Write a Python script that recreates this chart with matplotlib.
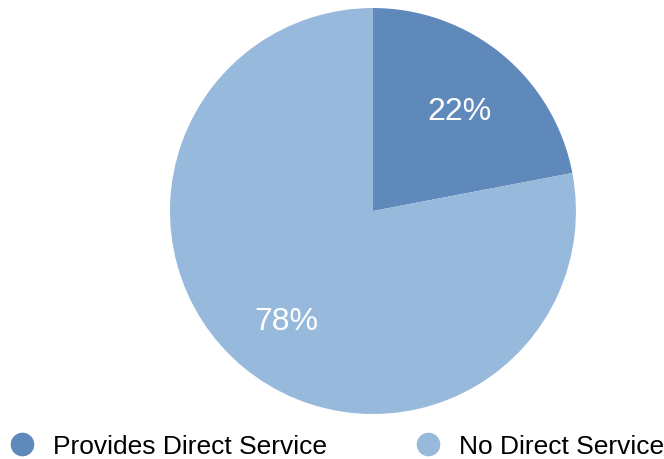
import matplotlib.pyplot as plt
from matplotlib.lines import Line2D

labels = ["Provides Direct Service", "No Direct Service"]
shares = [22, 78]
colors = ["#5f88bb", "#97b9dc"]

plt.rcParams['font.family'] = ['Liberation Sans', 'DejaVu Sans']

fig = plt.figure(figsize=(6.64, 4.60), dpi=100)
ax = fig.add_axes([0.256, 0.0978, 0.6114, 0.8826])
wedges, texts, autotexts = ax.pie(
    shares, colors=colors, startangle=90, counterclock=False,
    autopct="%d%%", pctdistance=0.67, radius=1,
    textprops={"color": "white", "fontsize": 23})
# nudge the percent labels down a little
for t in autotexts:
    x, y = t.get_position()
    t.set_position((x, y - 0.025))
ax.set_xlim(-1, 1)
ax.set_ylim(-1, 1)
ax.set_aspect("equal")

handles = [Line2D([], [], marker="o", linestyle="none", markersize=16,
                  markerfacecolor=c, markeredgecolor=c) for c in colors]
fig.legend(handles, labels, loc="center left", bbox_to_anchor=(-0.004, 0.028),
           ncol=2, frameon=False, fontsize=19, columnspacing=3.3,
           handletextpad=0.6, handlelength=1.1, borderaxespad=0)

fig.savefig("out.png", dpi=100)
